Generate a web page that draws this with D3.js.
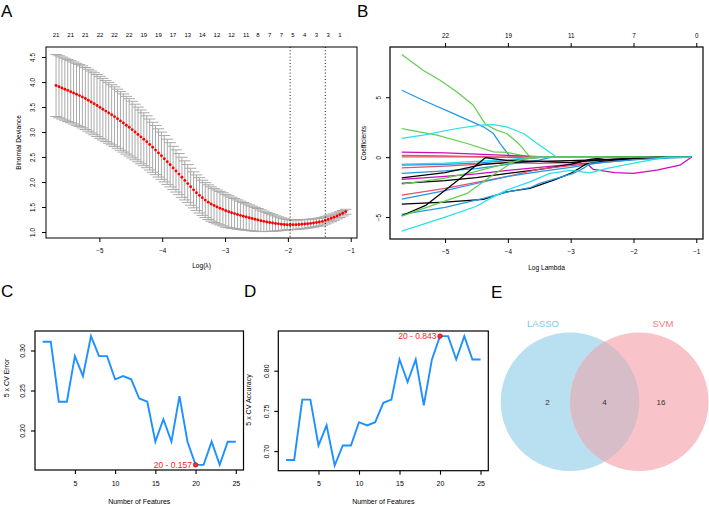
<!DOCTYPE html>
<html><head><meta charset="utf-8">
<script src="https://cdn.jsdelivr.net/npm/d3@7"></script>
<style>body{margin:0;background:#fff} svg{display:block;font-family:"Liberation Sans",Arial,Helvetica,sans-serif}</style>
</head><body><svg id="c" width="709" height="505"></svg>
<script>
// ---------- Panel A: cv.glmnet ----------
const logLambda = [-5.690,-5.643,-5.597,-5.550,-5.504,-5.457,-5.411,-5.364,-5.317,-5.271,
-5.224,-5.178,-5.131,-5.085,-5.038,-4.991,-4.945,-4.898,-4.852,-4.805,
-4.759,-4.712,-4.665,-4.619,-4.572,-4.526,-4.479,-4.433,-4.386,-4.339,
-4.293,-4.246,-4.200,-4.153,-4.107,-4.060,-4.013,-3.967,-3.920,-3.874,
-3.827,-3.781,-3.734,-3.687,-3.641,-3.594,-3.548,-3.501,-3.455,-3.408,
-3.361,-3.315,-3.268,-3.222,-3.175,-3.129,-3.082,-3.035,-2.989,-2.942,
-2.896,-2.849,-2.803,-2.756,-2.709,-2.663,-2.616,-2.570,-2.523,-2.477,
-2.430,-2.383,-2.337,-2.290,-2.244,-2.197,-2.151,-2.104,-2.057,-2.011,
-1.964,-1.918,-1.871,-1.825,-1.778,-1.731,-1.685,-1.638,-1.592,-1.545,
-1.499,-1.452,-1.405,-1.359,-1.312,-1.266,-1.219,-1.173,-1.126,-1.080];
const cvm = [3.930,3.905,3.880,3.856,3.832,3.806,3.780,3.754,3.728,3.702,
3.670,3.635,3.600,3.565,3.529,3.493,3.456,3.418,3.382,3.344,
3.307,3.265,3.222,3.180,3.136,3.094,3.048,3.000,2.951,2.903,
2.855,2.805,2.750,2.694,2.638,2.582,2.526,2.466,2.404,2.344,
2.282,2.221,2.158,2.094,2.032,1.968,1.905,1.843,1.785,1.733,
1.684,1.638,1.597,1.561,1.530,1.502,1.477,1.453,1.425,1.405,
1.386,1.368,1.350,1.333,1.316,1.300,1.284,1.269,1.254,1.240,
1.226,1.213,1.201,1.190,1.180,1.171,1.163,1.156,1.150,1.146,
1.144,1.145,1.147,1.150,1.154,1.159,1.165,1.172,1.180,1.189,
1.199,1.212,1.232,1.252,1.274,1.297,1.322,1.348,1.375,1.405];
const cvsd = [0.620,0.620,0.620,0.620,0.620,0.620,0.620,0.620,0.620,0.620,
0.620,0.620,0.620,0.620,0.620,0.620,0.615,0.610,0.606,0.601,
0.596,0.591,0.587,0.582,0.577,0.573,0.566,0.556,0.547,0.538,
0.529,0.519,0.510,0.501,0.491,0.482,0.473,0.463,0.452,0.442,
0.432,0.422,0.411,0.401,0.391,0.380,0.370,0.360,0.357,0.354,
0.352,0.349,0.346,0.343,0.341,0.338,0.335,0.332,0.328,0.319,
0.310,0.301,0.292,0.283,0.274,0.265,0.256,0.247,0.238,0.230,
0.217,0.204,0.191,0.178,0.165,0.152,0.139,0.126,0.113,0.102,
0.099,0.097,0.095,0.093,0.091,0.089,0.087,0.085,0.083,0.081,
0.080,0.077,0.074,0.071,0.068,0.064,0.061,0.058,0.054,0.050];
const nzLabelsA = ["21","21","21","22","22","22","19","19","17","13","14","12","12","11","8","7","7","5","4","3","3","1"];
const nzLabelPosA = [-5.690,-5.457,-5.224,-4.991,-4.759,-4.526,-4.293,-4.060,-3.827,-3.594,-3.361,-3.129,-2.896,-2.663,-2.477,-2.290,-2.104,-1.918,-1.731,-1.545,-1.359,-1.173];
const lambdaMin = -1.964, lambda1se = -1.405;
const ticksAx = [-5,-4,-3,-2,-1];
const ticksAy = [1.0,1.5,2.0,2.5,3.0,3.5,4.0,4.5];

// ---------- Panel B: coefficient paths ----------
const pathColors = ["#000000","#DF536B","#61D04F","#2297E6","#28E2E5","#CD0BBC"];
const coefPaths = [
 {c:2, p:[[-5.69,8.56],[-5.35,7.25],[-5.08,6.42],[-4.81,5.44],[-4.55,4.33],[-4.45,3.5],[-4.36,2.75],[-4.18,2.25],[-4.02,1.97],[-3.86,1.28],[-3.78,0.86],[-3.65,0],[-1.08,0]]},
 {c:3, p:[[-5.69,5.58],[-5.35,4.75],[-4.81,3.5],[-4.39,2.53],[-4.23,1.97],[-4.12,1.1],[-3.96,0],[-1.08,0]]},
 {c:2, p:[[-5.69,2.39],[-5.56,2.25],[-5.13,1.83],[-4.65,1.14],[-4.23,0.44],[-4.02,0.39],[-3.8,0.17],[-3.65,0],[-1.08,0]]},
 {c:4, p:[[-5.69,1.56],[-5.35,1.83],[-4.81,2.39],[-4.44,2.67],[-4.23,2.72],[-4.02,2.53],[-3.75,1.97],[-3.51,1.06],[-3.22,0],[-1.08,0]]},
 {c:5, p:[[-5.69,0.42],[-5.0,0.35],[-4.5,0.25],[-4.0,0.15],[-3.5,0.05],[-3.3,0],[-1.08,0]]},
 {c:1, p:[[-5.69,0.03],[-4.5,0.02],[-4.0,0],[-1.08,0]]},
 {c:1, p:[[-5.69,0.15],[-5.0,0.1],[-4.2,0],[-1.08,0]]},
 {c:4, p:[[-5.69,-0.58],[-5.0,-0.5],[-4.5,-0.35],[-4.0,-0.2],[-3.6,0],[-1.08,0]]},
 {c:3, p:[[-5.69,-0.67],[-5.0,-0.6],[-4.5,-0.5],[-4.0,-0.3],[-3.7,-0.1],[-3.4,0],[-1.08,0]]},
 {c:1, p:[[-5.69,-0.89],[-5.0,-0.75],[-4.5,-0.6],[-4.0,-0.45],[-3.5,-0.53],[-3.0,-0.45],[-2.5,-0.3],[-2.0,-0.12],[-1.47,0],[-1.08,0]]},
 {c:3, p:[[-5.69,-1.36],[-5.0,-1.15],[-4.5,-0.95],[-4.0,-0.6],[-3.5,-0.25],[-3.3,0],[-1.08,0]]},
 {c:0, p:[[-5.69,-1.72],[-5.0,-1.3],[-4.39,-0.6],[-4.0,-0.45],[-3.5,-0.35],[-3.0,-0.3],[-2.5,-0.2],[-2.0,-0.1],[-1.6,0],[-1.08,0]]},
 {c:5, p:[[-5.69,-1.86],[-5.0,-1.6],[-4.5,-1.4],[-4.0,-1.1],[-3.5,-0.85],[-3.0,-0.6],[-2.74,-0.53],[-2.64,-1.03],[-2.3,-1.3],[-2.0,-1.36],[-1.63,-1.08],[-1.26,-0.67],[-1.08,0]]},
 {c:0, p:[[-5.69,-2.19],[-5.0,-1.95],[-4.5,-1.7],[-4.0,-1.35],[-3.49,-1.03],[-3.0,-0.6],[-2.69,-0.19],[-2.4,0],[-1.08,0]]},
 {c:2, p:[[-5.69,-2.25],[-5.0,-1.75],[-4.55,-1.25],[-4.0,-0.5],[-3.65,-0.1],[-3.4,0],[-1.08,0]]},
 {c:1, p:[[-5.69,-3.17],[-5.0,-2.6],[-4.5,-2.1],[-4.0,-1.6],[-3.5,-1.0],[-3.0,-0.7],[-2.5,-0.45],[-2.0,-0.2],[-1.5,0],[-1.08,0]]},
 {c:3, p:[[-5.69,-3.5],[-5.0,-2.8],[-4.5,-2.2],[-4.0,-1.6],[-3.5,-1.2],[-3.0,-0.85],[-2.7,-0.6],[-2.3,-0.3],[-1.8,0],[-1.08,0]]},
 {c:0, p:[[-5.69,-3.92],[-5.0,-3.75],[-4.39,-3.53],[-4.02,-2.89],[-3.65,-2.61],[-3.27,-1.92],[-3.0,-1.36],[-2.74,-0.53],[-2.5,-0.35],[-2.0,-0.1],[-1.7,0],[-1.08,0]]},
 {c:3, p:[[-5.69,-4.78],[-5.0,-4.2],[-4.39,-3.44],[-4.0,-2.9],[-3.65,-2.55],[-3.49,-2.19],[-2.96,-1.36],[-2.8,-0.94],[-2.69,-0.53],[-2.42,-0.39],[-1.89,-0.19],[-1.08,0]]},
 {c:0, p:[[-5.69,-4.89],[-5.3,-4.0],[-4.76,-1.78],[-4.36,-0.05],[-4.0,-0.3],[-3.5,-0.35],[-3.0,-0.45],[-2.7,-0.3],[-2.0,-0.1],[-1.6,0],[-1.08,0]]},
 {c:2, p:[[-5.69,-4.92],[-5.19,-4.0],[-4.65,-3.03],[-4.28,-1.64],[-3.91,-0.39],[-3.65,0],[-1.08,0]]},
 {c:4, p:[[-5.69,-6.17],[-5.0,-5.0],[-4.5,-4.1],[-4.28,-3.44],[-4.02,-2.75],[-3.65,-2.06],[-3.33,-1.36],[-3.0,-1.1],[-2.69,-1.31],[-2.42,-0.94],[-1.89,-0.39],[-1.47,0],[-1.08,0]]}
];
const ticksBx = [-5,-4,-3,-2,-1];
const topLabelsB = ["22","19","11","7","0"];
const ticksBy = [-5,0,5];

// ---------- Panels C / D: SVM-RFE ----------
const nFeatures = [1,2,3,4,5,6,7,8,9,10,11,12,13,14,15,16,17,18,19,20,21,22,23,24,25];
const cvError = [0.311,0.311,0.236,0.236,0.293,0.268,0.318,0.293,0.293,0.264,0.268,0.264,0.240,0.236,0.186,0.214,0.186,0.243,0.186,0.157,0.157,0.186,0.157,0.186,0.186];
const cvAccuracy = [0.689,0.689,0.764,0.764,0.707,0.732,0.682,0.707,0.707,0.736,0.732,0.736,0.760,0.764,0.814,0.786,0.814,0.757,0.814,0.843,0.843,0.814,0.843,0.814,0.814];
const ticksCDx = [5,10,15,20,25];
const ticksCy = [0.20,0.25,0.30];
const ticksDy = [0.70,0.75,0.80];

// ---------- Panel E: Venn ----------
const vennSets = ["LASSO","SVM"];
const vennCounts = {lassoOnly:2, both:4, svmOnly:16};

const svg = d3.select('#c');
const FONT = '"Liberation Sans",Arial,Helvetica,sans-serif';

function txt(g,x,y,s,size,anchor,color,rot){
  const t = g.append('text').attr('font-size',size).attr('fill',color||'#000')
    .attr('text-anchor',anchor||'middle').text(s);
  if(rot){ t.attr('transform',`translate(${x},${y}) rotate(-90)`); }
  else { t.attr('x',x).attr('y',y); }
  return t;
}
function box(g,x0,y0,x1,y1,w){
  g.append('rect').attr('x',x0).attr('y',y0).attr('width',x1-x0).attr('height',y1-y0)
   .attr('fill','none').attr('stroke','#000').attr('stroke-width',w||1);
}

// panel letters
[["A",1,17],["B",357,17],["C",1,297],["D",244,297],["E",491,298]].forEach(d=>{
  txt(svg,d[1],d[2],d[0],17,'start');
});

// ================= Panel A =================
(function(){
  const x0=46,x1=357,y0=47,y1=238;
  const x = d3.scaleLinear().domain([-5.85,-0.9]).range([x0,x1]);
  const y = d3.scaleLinear().domain([0.88,4.7]).range([y1,y0]);
  const g = svg.append('g');
  const barw = 0.0922;
  const eb = g.append('g').attr('stroke','#A9A9A9').attr('stroke-width',1);
  logLambda.forEach((l,i)=>{
    const up = cvm[i]+cvsd[i], lo = cvm[i]-cvsd[i];
    eb.append('line').attr('x1',x(l)).attr('x2',x(l)).attr('y1',y(up)).attr('y2',y(lo));
    eb.append('line').attr('x1',x(l-barw)).attr('x2',x(l+barw)).attr('y1',y(up)).attr('y2',y(up));
    eb.append('line').attr('x1',x(l-barw)).attr('x2',x(l+barw)).attr('y1',y(lo)).attr('y2',y(lo));
  });
  g.selectAll('circle.pt').data(logLambda).enter().append('circle')
    .attr('cx',d=>x(d)).attr('cy',(d,i)=>y(cvm[i])).attr('r',1.45).attr('fill','#FF0000');
  [lambdaMin,lambda1se].forEach(v=>{
    g.append('line').attr('x1',x(v)).attr('x2',x(v)).attr('y1',y0).attr('y2',y1)
      .attr('stroke','#000').attr('stroke-width',0.9).attr('stroke-dasharray','1,2.2');
  });
  box(g,x0,y0,x1,y1,1);
  const ax = g.append('g').attr('transform',`translate(0,${y1})`)
    .call(d3.axisBottom(x).tickValues(ticksAx).tickSize(4).tickFormat(d=>d<0?'\u2212'+Math.abs(d):d));
  ax.select('.domain').remove();
  ax.selectAll('text').attr('font-size',6.3).attr('font-family',FONT).attr('dy',0).attr('y',15);
  const ay = g.append('g').attr('transform',`translate(${x0},0)`)
    .call(d3.axisLeft(y).tickValues(ticksAy).tickSize(4).tickFormat(d3.format('.1f')));
  ay.select('.domain').remove();
  ay.selectAll('text').attr('font-size',6.3).attr('font-family',FONT)
    .attr('x',0).attr('y',-10.6).attr('dy',0).attr('text-anchor','middle').attr('transform','rotate(-90)');
  nzLabelsA.forEach((s,i)=>txt(g,x(nzLabelPosA[i]),37.3,s,6,'middle'));
  txt(g,(x0+x1)/2,267.5,'Log(\u03bb)',6.6,'middle');
  txt(g,20.5,(y0+y1)/2,'Binomial Deviance',6.6,'middle','#000',true);
})();

// ================= Panel B =================
(function(){
  const x0=390,x1=703,y0=47,y1=239;
  const x = d3.scaleLinear().domain([-5.877,-0.893]).range([x0,x1]);
  const y = d3.scaleLinear().domain([-6.83,9.19]).range([y1,y0]);
  const g = svg.append('g');
  const line = d3.line().x(d=>x(d[0])).y(d=>y(d[1]));
  coefPaths.forEach(cp=>{
    g.append('path').attr('d',line(cp.p)).attr('fill','none')
      .attr('stroke',pathColors[cp.c]).attr('stroke-width',1.25).attr('stroke-linejoin','round');
  });
  box(g,x0,y0,x1,y1,1.2);
  const ax = g.append('g').attr('transform',`translate(0,${y1})`)
    .call(d3.axisBottom(x).tickValues(ticksBx).tickSize(4).tickFormat(d=>'\u2212'+Math.abs(d)));
  ax.select('.domain').remove();
  ax.selectAll('text').attr('font-size',6.3).attr('font-family',FONT).attr('dy',0).attr('y',14.5);
  const at = g.append('g').attr('transform',`translate(0,${y0})`)
    .call(d3.axisTop(x).tickValues(ticksBx).tickSize(4).tickFormat((d,i)=>topLabelsB[i]));
  at.select('.domain').remove();
  at.selectAll('text').attr('font-size',6.3).attr('font-family',FONT).attr('dy',0).attr('y',-9.5);
  const ay = g.append('g').attr('transform',`translate(${x0},0)`)
    .call(d3.axisLeft(y).tickValues(ticksBy).tickSize(4).tickFormat(d=>d<0?'\u2212'+Math.abs(d):d));
  ay.select('.domain').remove();
  ay.selectAll('text').attr('font-size',6.3).attr('font-family',FONT)
    .attr('x',0).attr('y',-9.5).attr('dy',0).attr('text-anchor','middle').attr('transform','rotate(-90)');
  txt(g,(x0+x1)/2,269.5,'Log Lambda',6.6,'middle');
  txt(g,365.5,(y0+y1)/2,'Coefficients',6.6,'middle','#000',true);
})();

// ================= Panels C & D =================
function rfePanel(x0,x1,y0,y1,vals,ydom,yticks,ytitle,best,labelTxt,titleX,titleY){
  const x = d3.scaleLinear().domain([0.04,25.96]).range([x0,x1]);
  const y = d3.scaleLinear().domain(ydom).range([y1,y0]);
  const g = svg.append('g');
  g.append('path').datum(vals).attr('fill','none').attr('stroke','#1E90FF').attr('stroke-width',1.9)
    .attr('stroke-linejoin','miter')
    .attr('d',d3.line().x((d,i)=>x(nFeatures[i])).y(d=>y(d)));
  box(g,x0,y0,x1,y1,1.2);
  const ax = g.append('g').attr('transform',`translate(0,${y1})`)
    .call(d3.axisBottom(x).tickValues(ticksCDx).tickSize(4));
  ax.select('.domain').remove();
  ax.selectAll('text').attr('font-size',7).attr('font-family',FONT).attr('dy',0).attr('y',15.5);
  ax.selectAll('line').attr('stroke-width',1.1);
  const ay = g.append('g').attr('transform',`translate(${x0},0)`)
    .call(d3.axisLeft(y).tickValues(yticks).tickSize(4).tickFormat(d3.format('.2f')));
  ay.select('.domain').remove();
  ay.selectAll('line').attr('stroke-width',1.1);
  ay.selectAll('text').attr('font-size',7).attr('font-family',FONT)
    .attr('x',0).attr('y',-9.6).attr('dy',0).attr('text-anchor','middle').attr('transform','rotate(-90)');
  const bx = x(nFeatures[best]), by = y(vals[best]);
  g.append('circle').attr('cx',bx).attr('cy',by).attr('r',2.3).attr('fill','#FF2A2A').attr('stroke','#B00000').attr('stroke-width',0.6);
  txt(g,bx-3.5,by+3,labelTxt,8.5,'end','#FF2020');
  txt(g,(x0+x1)/2,503.5,'Number of Features',7,'middle');
  txt(g,titleX,titleY,ytitle,7,'middle','#000',true);
}
rfePanel(35,243.5,331,470,cvError,[0.1506,0.3244],ticksCy,'5 x CV Error',19,'20 - 0.157',8.8,378);
rfePanel(278.3,488.3,331,470.7,cvAccuracy,[0.6756,0.8494],ticksDy,'5 x CV Accuracy',19,'20 - 0.843',251,400);

// ================= Panel E =================
(function(){
  const g = svg.append('g');
  const r = 69.3, cy = 401.7, cxL = 570, cxR = 639.3;
  g.append('circle').attr('cx',cxL).attr('cy',cy).attr('r',r).attr('fill','#B8E0F0');
  g.append('circle').attr('cx',cxR).attr('cy',cy).attr('r',r).attr('fill','#F9C4C9');
  g.append('clipPath').attr('id','clipL').append('circle').attr('cx',cxL).attr('cy',cy).attr('r',r);
  g.append('circle').attr('cx',cxR).attr('cy',cy).attr('r',r).attr('fill','#D7BDC8').attr('clip-path','url(#clipL)');
  txt(g,543,326.5,vennSets[0],9.6,'middle','#7CC8E6');
  txt(g,663,326.5,vennSets[1],9.6,'middle','#F37A84');
  txt(g,547.5,405,vennCounts.lassoOnly,8,'middle','#333');
  txt(g,604.5,405,vennCounts.both,8,'middle','#333');
  txt(g,661,405,vennCounts.svmOnly,8,'middle','#333');
})();
</script></body></html>
